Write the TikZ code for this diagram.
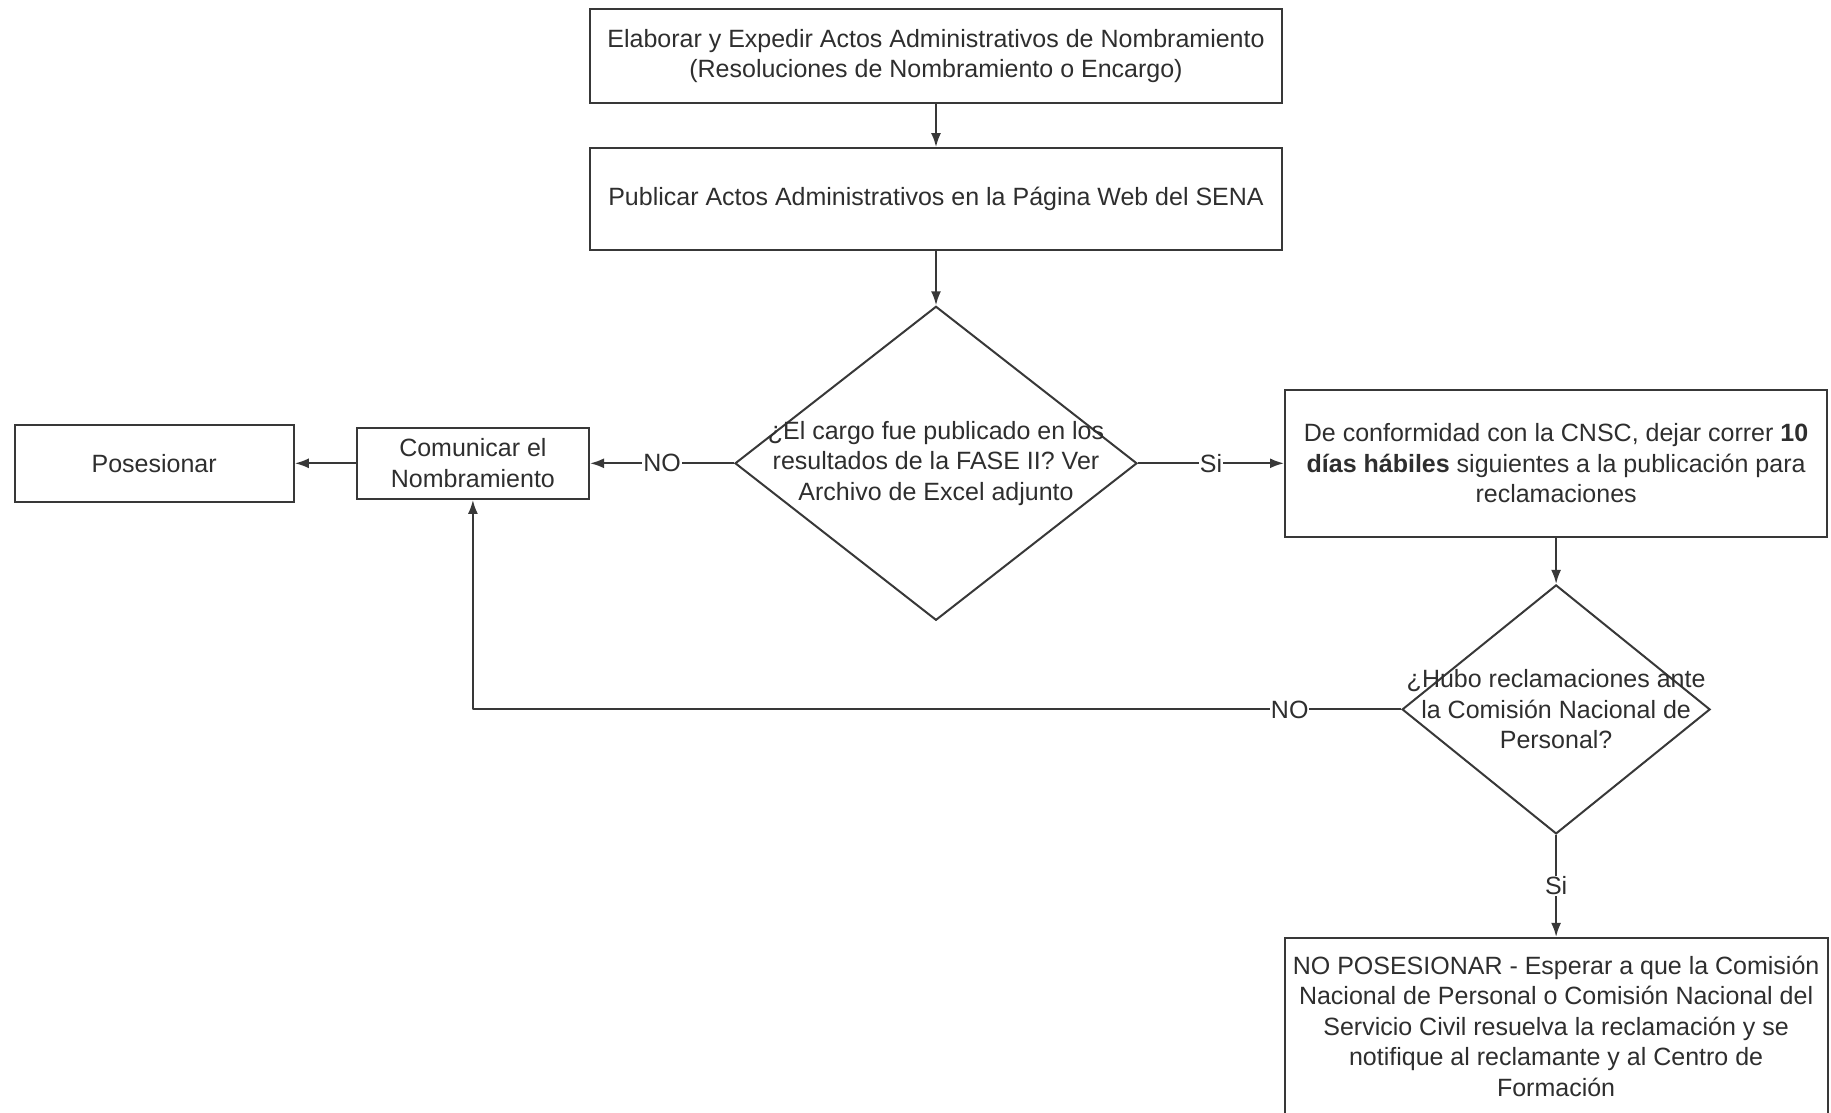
\documentclass[tikz,border=0pt]{standalone}
\usepackage{fontspec}
\setmainfont{Liberation Sans}
\usepackage{tikz}
\usetikzlibrary{arrows.meta, positioning, shapes.geometric}
\usepackage{xcolor}
\definecolor{Ink}{gray}{0.18}
\definecolor{LineInk}{gray}{0.22}
\newcommand{\flowfont}{\fontsize{25}{30.5}\selectfont}
\tikzset{%
  flow_block/.style={%
    rectangle,%
    draw=LineInk,%
    line width=2.2pt,%
    inner sep=0pt,%
    text=Ink,%
    font={\flowfont},%
    align=center%
  },
  flow_decision/.style={%
    diamond,%
    draw=LineInk,%
    line width=2pt,%
    inner sep=0pt,%
  },
  flow_text/.style={%
    text=Ink,%
    font={\flowfont},%
    align=center,%
  },
  flow_path/.style={%
    color=LineInk,%
    line join=round,%
    line width=2pt,%
  },
  flow_label/.style={%
    fill=white,%
    text=Ink,%
    inner sep=1pt,%
    font={\flowfont},%
  },
  arrow/.style={-{Latex[length=14pt, width=10pt]}},
}

\begin{document}
\begin{tikzpicture}[x=1pt, y=1pt]

    \useasboundingbox (0, 0) rectangle (1831, -1113);

    \node [flow_block, minimum width=692pt, minimum height=94pt]
      (Elaborar) at (936, -56) {%
      Elaborar y Expedir Actos Administrativos de Nombramiento\\
      (Resoluciones de Nombramiento o Encargo)%
    };
    \node [flow_block, minimum width=692pt, minimum height=102pt,
      below = 43 of Elaborar] (Publicar) {%
      Publicar Actos Administrativos en la Página Web del SENA%
    };
    \node [flow_decision, minimum width=402pt, minimum height=314pt,
      below = 54 of Publicar] (Cargo) {};
    \node [flow_text] (Cargo_txt) at (Cargo) {%
      ¿El cargo fue publicado en los\\
      resultados de la FASE II? Ver\\
      Archivo de Excel adjunto%
    };
    \node [flow_block, minimum width=232pt, minimum height=71pt,
      left = 144 of Cargo] (Comunicar) {%
      Comunicar el\\ Nombramiento%
    };
    \node [flow_block, minimum width=279pt, minimum height=77pt,
      left = 61 of Comunicar] (Posesionar) {Posesionar};
    \node [flow_block, minimum width=542pt, minimum height=147pt,
      right = 146 of Cargo] (Plazo) {%
      De conformidad con la CNSC, dejar correr \textbf{10}\\
      \textbf{días hábiles} siguientes a la publicación para\\
      reclamaciones%
    };
    \node [flow_decision, minimum width=308pt, minimum height=249pt,
      below = 46 of Plazo] (Hubo) {};
    \node [flow_text] (Hubo_txt) at (Hubo) {%
      ¿Hubo reclamaciones ante\\
      la Comisión Nacional de\\
      Personal?%
    };
    \node [flow_block, minimum width=543pt, minimum height=176pt,
      below = 102 of Hubo] (Esperar) {%
      NO POSESIONAR - Esperar a que la Comisión\\
      Nacional de Personal o Comisión Nacional del\\
      Servicio Civil resuelva la reclamación y se\\
      notifique al reclamante y al Centro de\\
      Formación%
    };

    \draw [arrow, flow_path]
      (Elaborar.south)
      --
      (Publicar.north);
    \draw [arrow, flow_path]
      (Publicar.south)
      --
      (Cargo.north);
    \draw [arrow, flow_path]
      (Cargo.west)
      --
      node [flow_label, midway] {NO}
      (Comunicar.east);
    \draw [arrow, flow_path]
      (Comunicar.west)
      --
      (Posesionar.east);
    \draw [arrow, flow_path]
      (Cargo.east)
      --
      node [flow_label, midway] {Si}
      (Plazo.west);
    \draw [arrow, flow_path]
      (Plazo.south)
      --
      (Hubo.north);
    \draw [arrow, flow_path]
      (Hubo.west)
      -|
      node [flow_label, pos=0.06] {NO}
      (Comunicar.south);
    \draw [arrow, flow_path]
      (Hubo.south)
      --
      node [flow_label, midway] {Si}
      (Esperar.north);
  \end{tikzpicture}
\end{document}
